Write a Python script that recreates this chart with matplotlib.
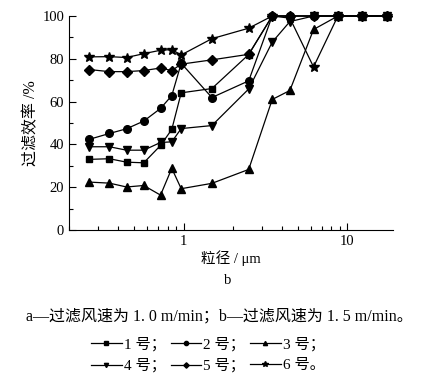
import matplotlib
matplotlib.use('Agg')
import matplotlib.pyplot as plt
from matplotlib.ticker import LogLocator, MultipleLocator, FixedLocator, NullFormatter

plt.rcParams['font.family'] = ['Liberation Serif', 'Noto Sans CJK SC']
plt.rcParams['mathtext.fontset'] = 'stix'

# particle size, um
size = [0.264, 0.353, 0.449, 0.572, 0.724, 0.848, 0.968, 1.49, 2.5, 3.48, 4.46, 6.22, 8.76, 12.35, 17.46]

# filtration efficiency, %
eff_1 = [33.0, 33.3, 31.7, 31.4, 39.5, 47.0, 64.1, 66.1, 82.0, 100, 100, 100, 100, 100, 100]
eff_2 = [42.3, 45.1, 47.3, 50.9, 56.8, 62.8, 77.9, 61.9, 69.7, 100, 100, 100, 100, 100, 100]
eff_3 = [22.4, 21.9, 20.1, 20.8, 16.3, 28.8, 19.3, 21.8, 28.3, 61.0, 65.2, 93.7, 100, 100, 100]
eff_4 = [38.9, 38.9, 37.3, 37.3, 40.9, 41.2, 47.4, 48.8, 65.9, 87.8, 97.4, 100, 100, 100, 100]
eff_5 = [75.0, 74.0, 74.0, 74.5, 75.7, 74.5, 77.5, 79.5, 82.1, 100, 100, 100, 100, 100, 100]
eff_6 = [80.9, 81.0, 80.6, 82.4, 84.0, 84.3, 81.8, 89.4, 94.3, 100, 99.0, 76.2, 100, 100, 100]

labels = ['1 号；', '2 号；', '3 号；', '4 号；', '5 号；', '6 号。']
markers = ['s', 'o', '^', 'v', 'D', '*']
msizes = [5, 5.5, 5.5, 5.5, 5, 7.5]

fig = plt.figure(figsize=(4.38, 3.78), dpi=100)
ax = fig.add_axes([69 / 438, 1 - 230 / 378, (393 - 69) / 438, (230 - 16) / 378])

handles = []
for y, lab, m, ms in zip([eff_1, eff_2, eff_3, eff_4, eff_5, eff_6], labels, markers, msizes):
    h, = ax.plot(size, y, color='black', lw=0.9, marker=m, ms=ms, clip_on=False, label=lab)
    handles.append(h)

ax.set_xscale('log')
ax.set_xlim(0.2, 19)
ax.set_ylim(0, 100)
ax.xaxis.set_major_locator(FixedLocator([1, 10]))
ax.xaxis.set_major_formatter(plt.FuncFormatter(lambda v, p: '%g' % v))
ax.xaxis.set_minor_locator(LogLocator(base=10, subs=range(2, 10)))
ax.xaxis.set_minor_formatter(NullFormatter())
ax.yaxis.set_major_locator(MultipleLocator(20))
ax.yaxis.set_minor_locator(MultipleLocator(10))

ax.spines['top'].set_visible(False)
ax.spines['right'].set_visible(False)
ax.tick_params(which='both', direction='in', labelsize=10.5, width=0.8)
ax.tick_params(which='major', length=5)
ax.tick_params(which='minor', length=3)

ax.set_xlabel('粒径 / μm', fontsize=10.5, labelpad=2)
ax.set_ylabel('过滤效率 /%', fontsize=11.5, labelpad=2)

fig.text(228 / 438, 1 - 281 / 378, 'b', ha='center', va='center', fontsize=10.5)
fig.text(219 / 438, 1 - 316 / 378, 'a—过滤风速为 1. 0 m/min；b—过滤风速为 1. 5 m/min。',
         ha='center', va='center', fontsize=11.5)

order = [0, 3, 1, 4, 2, 5]
leg = fig.legend([handles[i] for i in order], [labels[i] for i in order],
                 ncol=3, frameon=False, loc='center', bbox_to_anchor=(208 / 438, 1 - 355 / 378),
                 markerscale=0.55, handlelength=2.0, handletextpad=0.15, columnspacing=0.3,
                 labelspacing=0.45, fontsize=11)

fig.savefig('out.png', dpi=100)
